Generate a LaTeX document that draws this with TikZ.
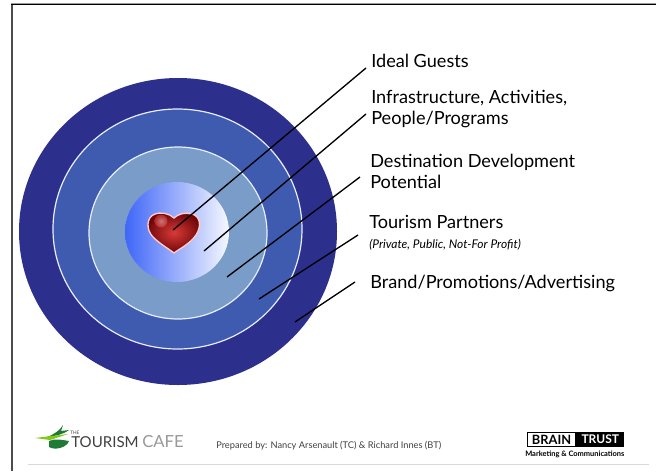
\documentclass[tikz,border=0pt]{standalone}
\usepackage{fontspec}
\setmainfont{Lato}
\usetikzlibrary{shapes.geometric}
\definecolor{ringA}{HTML}{2C2F8C}
\definecolor{ringB}{HTML}{3F5BB0}
\definecolor{ringC}{HTML}{7A9CC8}
\definecolor{ringline}{HTML}{E8EEF8}
\definecolor{hearta}{HTML}{D83A38}
\definecolor{heartb}{HTML}{6E0608}
\definecolor{leaf}{HTML}{1F7A35}
\definecolor{coreL}{HTML}{3F66F8}
\definecolor{coreM}{HTML}{A5B8F2}
\definecolor{coreR}{HTML}{F6F8FF}
\tikzset{
  ring/.style={ellipse,inner sep=0pt,draw=ringline,line width=0.9pt},
  lab/.style={anchor=base west,inner sep=0pt,font=\fontsize{13.6pt}{16pt}\selectfont},
  pointer/.style={draw=black,line width=1pt},
  logotext/.style={anchor=base west,inner sep=0pt}
}
\begin{document}
\begin{tikzpicture}[x=0.75pt,y=-0.75pt]
\useasboundingbox (0,0) rectangle (656,471);
\fill[white] (0,0) rectangle (656,471);
\draw[black!70,line width=1.5pt] (12,471) -- (12,4);
\draw[black!40,line width=0.8pt] (11,3.4) -- (656,3.4);
\draw[black,line width=1.1pt] (11,4.6) -- (656,4.6);
\draw[black!15,line width=0.7pt] (28,464) -- (649,464);
\node[ring,draw=none,fill=ringA,minimum width=318*0.75pt,minimum height=307*0.75pt] (r1) at (178,231.5) {};
\node[ring,fill=ringB,minimum width=249*0.75pt,minimum height=240*0.75pt] (r2) at (177.5,229) {};
\node[ring,fill=ringC,minimum width=178*0.75pt,minimum height=172*0.75pt] (r3) at (178,233) {};
\node[ellipse,inner sep=0pt,minimum width=104*0.75pt,minimum height=100*0.75pt,left color=coreL,middle color=coreM,right color=coreR] (r4) at (177,232) {};
\begin{scope}[shift={(174,213)}]
\shade[inner color=hearta,outer color=heartb,draw=red!20!white,line width=1pt]
 (0,5) .. controls (-5,0) and (-14,-1) .. (-19,1)
 .. controls (-28,4) and (-28,17) .. (-21,24)
 .. controls (-14,31) and (-5,36) .. (0,40)
 .. controls (5,36) and (16,31) .. (22,22)
 .. controls (28,13) and (26,3) .. (18,1)
 .. controls (11,-1) and (4,1) .. (0,5) -- cycle;
\shade[inner color=white!65!hearta,outer color=hearta,opacity=0.6] (-13,8) circle (6.5);
\end{scope}
\node[lab] (t1) at (371,67) {Ideal Guests};
\node[lab] (t2) at (371,103) {Infrastructure, Activities,};
\node[lab] (t2b) at (371,124) {People/Programs};
\node[lab] (t3) at (370,167) {Destination Development};
\node[lab] (t3b) at (370,188) {Potential};
\node[lab] (t4) at (369,228) {Tourism Partners};
\node[lab,font=\itshape\fontsize{9pt}{10pt}\selectfont] (t4b) at (369,248) {(Private, Public, Not-For Profit)};
\node[lab] (t5) at (370,288) {Brand/Promotions/Advertising};
\coordinate (a1) at (366,68); \coordinate (b1) at (173,230);
\coordinate (a2) at (366,114); \coordinate (b2) at (204,251);
\coordinate (a3) at (360,177); \coordinate (b3) at (227,277);
\coordinate (a4) at (358,235); \coordinate (b4) at (259,299);
\coordinate (a5) at (355,282); \coordinate (b5) at (295,322);
\draw[pointer] (a1) -- (b1);
\draw[pointer] (a2) -- (b2);
\draw[pointer] (a3) -- (b3);
\draw[pointer] (a4) -- (b4);
\draw[pointer] (a5) -- (b5);
% logo
\fill[leaf] (47,437) .. controls (55,434) and (60,430) .. (63,425) -- (61,431) -- (69,430) .. controls (62,435) and (55,436) .. (47,437) -- cycle;
\fill[lime!60!leaf] (35,438) -- (68,434) -- (50,440) -- cycle;
\fill[leaf] (49,441) .. controls (55,438) and (62,440) .. (69,441) .. controls (67,447) and (56,451) .. (49,447) -- cycle;
\node[logotext,text=black!75,font=\fontsize{3.5pt}{4pt}\selectfont] (the) at (70,434) {THE};
\node[logotext,text=black!75,font=\fontsize{11.3pt}{14pt}\selectfont] (tc) at (71,447) {TOURISM};
\node[logotext,text=black!40,font=\fontsize{12.5pt}{14pt}\selectfont] (cafe) at (142,447) {CAFE};
\node[logotext,text=black!75,font=\fontsize{6.95pt}{8pt}\selectfont] (prep) at (216,448) {Prepared by: Nancy Arsenault (TC) \& Richard Innes (BT)};
% brain trust
\node[draw=black,line width=0.8pt,fill=white,minimum width=36pt,minimum height=11pt,inner sep=0pt,anchor=west,font=\bfseries\fontsize{9.6pt}{10pt}\selectfont] (brain) at (527,439.5) {BRAIN};
\node[fill=black,text=white,minimum width=36pt,minimum height=11.5pt,inner sep=0pt,anchor=west,font=\bfseries\fontsize{9pt}{10pt}\selectfont] (trust) at (576,439.5) {TRUST};
\node[logotext,font=\bfseries\fontsize{5.6pt}{6pt}\selectfont] (mc) at (525,456) {Marketing \& Communications};
\end{tikzpicture}
\end{document}
